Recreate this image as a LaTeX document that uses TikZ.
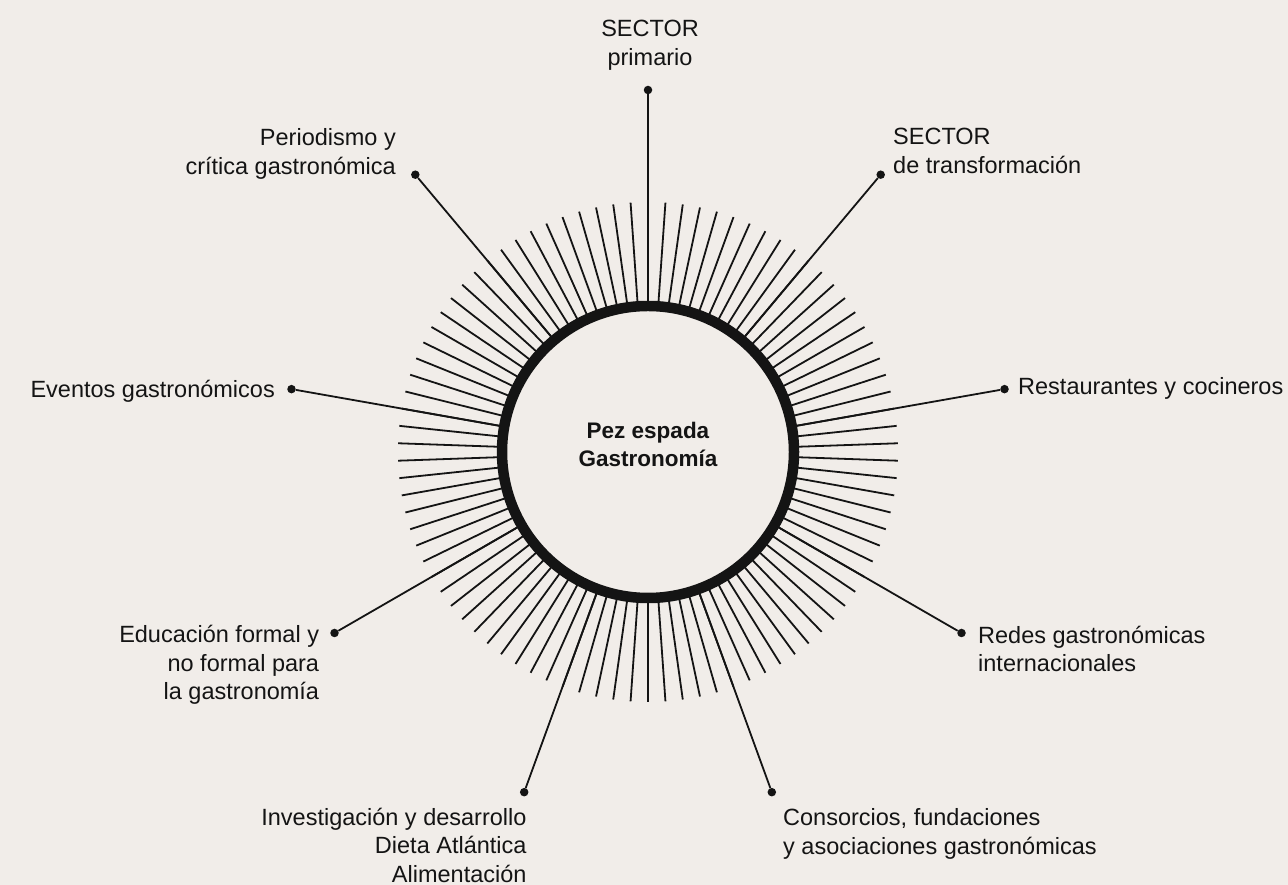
\documentclass[tikz,border=0pt]{standalone}
\usepackage{fontspec}
\setmainfont{Liberation Sans}
\usetikzlibrary{calc}
\definecolor{bg}{RGB}{241,237,233}
\definecolor{ink}{RGB}{20,20,20}
\begin{document}
\begin{tikzpicture}[x=1pt,y=1pt,
  ray/.style={line width=1.8pt, ink},
  link/.style={line width=1.8pt, ink},
  dotnode/.style={circle, fill=ink, inner sep=0pt, minimum size=8.5pt},
  lbl/.style={font=\fontsize{23.5}{28.5}\selectfont, inner sep=0pt, text=ink},
  title/.style={font=\fontsize{22.5}{28.5}\selectfont\bfseries, inner sep=0pt, align=center, text=ink},
  ring/.style={circle, draw=ink, line width=10.5pt, minimum size=292pt, inner sep=0pt}]
\fill[bg] (0,0) rectangle (1288,885);
\useasboundingbox (0,0) rectangle (1288,885);
\coordinate (C) at (648,433);
\foreach \k in {0,...,89} {
  \draw[ray] ($(C)+(90+4*\k:146)$) -- ($(C)+(90+4*\k:250)$);
}
\node[ring] (c) at (C) {};
\node[title, anchor=base] (tt) at (648,418.3) {Pez espada\\Gastronomía};
\foreach \a/\n in {90/p,50/t,10/r,330/re,290/co,250/in,210/ed,170/ev,130/pe} {
  \node[dotnode] (d\n) at ($(C)+(\a:362)$) {};
  \draw[link] (c.\a) -- (d\n);
}
\node[lbl, align=center, anchor=base] (lp) at (650,819.8) {SECTOR\\primario};
\node[lbl, align=left, anchor=base west] (lt) at (893,711.5) {SECTOR\\de transformación};
\node[lbl, align=right, anchor=base east] (lpe) at (396,710.8) {Periodismo y\\crítica gastronómica};
\node[lbl, anchor=base east] (lev) at (275,487) {Eventos gastronómicos};
\node[lbl, anchor=base west] (lr) at (1018,490) {Restaurantes y cocineros};
\node[lbl, align=left, anchor=base west] (lre) at (978,213) {Redes gastronómicas\\internacionales};
\node[lbl, align=left, anchor=base west] (lco) at (783,30.5) {Consorcios, fundaciones\\y asociaciones gastronómicas};
\node[lbl, align=right, anchor=base east] (lin) at (526.7,2.5) {Investigación y desarrollo\\Dieta Atlántica\\Alimentación};
\node[lbl, align=right, anchor=base east] (led) at (319.3,185.3) {Educación formal y\\no formal para\\la gastronomía};
\end{tikzpicture}
\end{document}
